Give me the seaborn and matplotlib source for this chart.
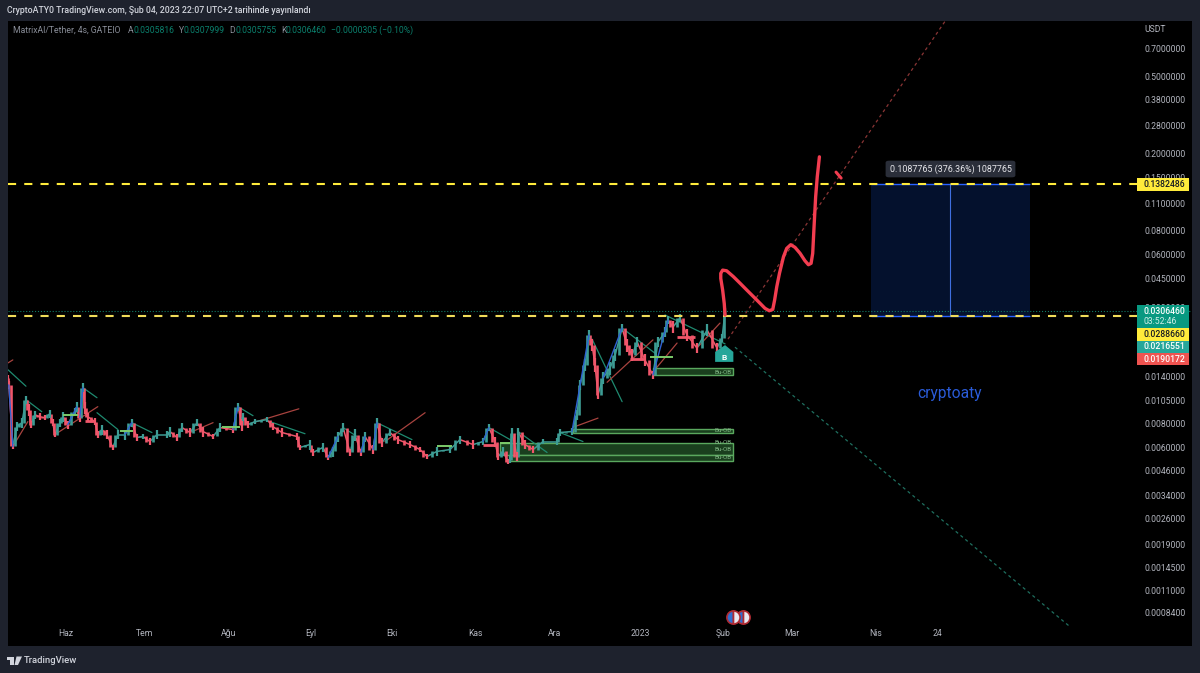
import numpy as np
import pandas as pd
import matplotlib
matplotlib.use('Agg')
import matplotlib.pyplot as plt
from matplotlib.patches import Rectangle, FancyBboxPatch, Polygon
import seaborn as sns

# days counted from 1 Haz 2022, prices in USDT
price_days = [-21.6, -21.3, -19.8, -18.3, -16.4, -14.9, -13.8, -13.1, -11.6, -9.7, -7.8, -6, -4.9, -4.1, -2.2, -1.1, 0.7, 3.4, 4.1, 5.2,
              6.3, 7.1, 8.2, 10.8, 11.9, 13.4, 15.3, 17.5, 19.4, 22, 24.6, 26.5, 28.7, 31.3, 34, 37.7, 38.8, 41.4, 43.3, 46.3,
              48.9, 51.1, 54.9, 57.5, 62.3, 64.2, 65.7, 66, 67.9, 70.5, 75, 77.2, 80.6, 86.2, 87.3, 91, 92.2, 95.9, 97.8, 99.6,
              101.5, 103.4, 106, 107.8, 110.1, 111.6, 114.6, 116, 117.9, 120.9, 123.9, 128.4, 132.1, 134.7, 138.4, 143.3, 147, 151.9, 155.6, 157.8,
              160.1, 161.2, 163.1, 164.9, 165.7, 166.4, 168.3, 168.7, 171.3, 174.3, 178, 183.2, 184.3, 188.8, 190.7, 191.8, 193.7, 195.1, 196.3, 197.4,
              198.5, 200.4, 203, 204.9, 207.5, 209.3, 211.2, 213.1, 216, 219, 220.9, 223.5, 224.6, 226.5, 229.1, 231.7, 235.4, 239.2, 242.9, 244.8, 245.9]
price_vals = [.0138, .0127, .0061, .00773, .0081, .01065, .00945, .00791, .0089, .00869, .00859, .009, .0081, .00703, .0081, .00869, .00791, .00923, .0098, .00859,
              .0123, .00967, .00869, .0082, .00703, .00746, .00703, .00603, .00703, .00703, .0081, .00679, .00687, .00647, .00703, .00703, .00729, .00679, .00764, .0072,
              .0081, .00729, .00687, .00764, .00746, .0098, .00791, .00869, .00791, .0082, .0084, .00773, .0072, .00687, .00603, .00624, .00568, .00603, .00535, .00575,
              .00687, .00764, .00568, .00703, .00568, .00687, .00588, .0081, .00639, .0072, .00662, .00624, .00588, .00541, .00575, .00588, .00662, .00624, .00647, .00764,
              .00647, .00541, .00575, .0051, .00522, .0072, .00541, .00729, .00624, .00588, .00647, .00647, .0072, .00729, .0089, .0127, .0161, .023, .0204,
              .0161, .0113, .0138, .0155, .0181, .025, .0204, .0181, .0212, .0171, .0143, .0212, .0238, .0275, .0253, .0282, .023, .0197, .0244, .0197, .0222, .0306]
# wick half height at each read point, as a share of the price
wick_sizes = [.04, .05, .03, .05, .06, .05, .07, .04, .05, .04, .03, .05, .04, .03, .05, .06, .05, .04, .06, .05,
              .05, .07, .05, .04, .04, .06, .05, .03, .05, .06, .05, .04, .03, .04, .05, .04, .06, .04, .05, .05,
              .04, .06, .03, .05, .04, .05, .07, .05, .04, .03, .03, .04, .05, .04, .03, .06, .04, .05, .03, .06,
              .06, .05, .04, .07, .04, .06, .05, .06, .05, .04, .05, .04, .03, .03, .05, .04, .05, .05, .04, .04,
              .06, .04, .05, .03, .04, .06, .05, .04, .05, .04, .03, .04, .04, .04, .06, .06, .07, .06, .07,
              .08, .05, .07, .08, .07, .05, .08, .07, .06, .07, .05, .06, .06, .05, .07, .05, .07, .06, .07, .06, .05, .04]

# hand drawn forecast curve and the small tick next to it
sketch_days = [245.9, 245.6, 245.0, 244.3, 244.3, 245.0, 246.5, 249.0, 251.5, 254.0, 256.5, 259.0, 260.8, 262.4, 263.7, 264.4,
               265.2, 266.2, 267.7, 268.9, 270.4, 272.0, 273.9, 275.7, 277.0, 278.0, 278.6, 279.1, 279.7, 280.3, 281.1]
sketch_vals = [.0292, .0335, .0393, .0451, .0479, .0498, .0494, .0461, .0426, .0393, .0363, .0335, .0316, .0307, .0312, .0349,
               .0409, .0479, .0584, .0645, .0674, .0653, .0608, .0557, .0531, .054, .0608, .0834, .1192, .1513, .1919]
mark_days = [287.3, 289.2]
mark_vals = [.16, .149]

# swing lines: start day, start price, end day, end price
green_lines = [(-21.6, .0152, -14.9, .0125), (-14.9, .01065, -9, .00923), (6.3, .0123, 11.6, .0109), (11.6, .00912, 19.4, .00746),
               (24.6, .0081, 32.1, .0072), (64.2, .0098, 69.8, .0088), (76.1, .0082, 89.2, .0071), (103.4, .00764, 108.6, .00687),
               (116, .0081, 129.1, .00662), (157.8, .00764, 165.7, .00662), (168.7, .00729, 179.5, .00568), (184.3, .0072, 192.9, .00647),
               (196.3, .0219, 207.5, .0104), (207.5, .025, 219.8, .0185), (223.5, .0292, 245.9, .0207)]
red_lines = [(-21.6, .0165, -19.8, .0171), (-19.8, .0061, -14.2, .0082), (-4.1, .00703, 11.9, .0098), (46.3, .0072, 54.9, .0081),
             (69.8, .0081, 86.9, .00955), (119, .00647, 134, .00912), (189.9, .00773, 198.5, .00855), (201.9, .0131, 219, .0217),
             (219, .0148, 228, .0209), (235.4, .0197, 244, .0265)]
blue_lines = [(-21.3, .0127, -19.8, .0061), (0.7, .00791, 4.1, .0098), (5.2, .00859, 6.3, .0123), (22, .00703, 24.6, .0081),
              (62.3, .00746, 64.2, .0098), (97.8, .00535, 101.5, .00687), (110.1, .00568, 111.6, .00687), (114.6, .00588, 116, .0081),
              (155.6, .00647, 157.8, .00764), (188.8, .00729, 195.1, .023), (200.4, .0138, 207.5, .025), (219, .0143, 224.6, .0275)]
green_flats = [(-1.1, 4.5, .0089), (20.1, 25, .00737), (58.2, 64.9, .00773), (138.4, 144, .00617), (161.9, 165.7, .00632), (217.9, 226.5, .0178)]
pink_flats = [(7.1, 10.8, .0083), (155.6, 160.8, .00624), (210.4, 216, .0173), (228, 234.7, .0225)]

# Bu-OB zones: start day, top price, bottom price
zone_end = 248.9
zones = [(219, .0155, .0143), (189.2, .00755, .00712), (162, .00639, .00548), (165.3, .00548, .00516)]
zone_label_prices = [.0148, .00735, .00639, .00588, .00532]

level_high = 0.1382486
level_low = 0.0288660
last_price = 0.0306460
box_days = [300.4, 329.9, 359.7]
up_line = [(247, .0219), (328, .965)]
down_line = [(249.6, .0199), (374.6, .000713)]

y_ticks = [0.7, 0.5, 0.38, 0.28, 0.2, 0.15, 0.11, 0.08, 0.06, 0.045, 0.032, 0.014, 0.0105, 0.008, 0.006, 0.0046, 0.0034, 0.0026, 0.0019, 0.00145, 0.0011, 0.00084]
x_ticks = [0, 29.5, 60.8, 91.4, 121.6, 152.6, 182.4, 214.1, 245.1, 270.9, 301.9, 325]
x_labels = ['Haz', 'Tem', 'Ağu', 'Eyl', 'Eki', 'Kas', 'Ara', '2023', 'Şub', 'Mar', 'Nis', '24']

W, H = 1200, 673
UP = '#3d9c94'
DOWN = '#f0566a'
sns.set_style('dark')
plt.rcParams['font.family'] = ['Roboto', 'DejaVu Sans']


def fx(x):
    return x / W


def fy(y):
    return 1 - y / H


def swing_frame(lines):
    rows = []
    for n, (d0, p0, d1, p1) in enumerate(lines):
        rows.append((n, d0, p0))
        rows.append((n, d1, p1))
    return pd.DataFrame(rows, columns=['seg', 'day', 'price'])


fig = plt.figure(figsize=(12, 6.73), dpi=100, facecolor='#1e222d')
ax = fig.add_axes([fx(8), fy(646), fx(1184), fy(21) - fy(646)], facecolor='black')
ax.set_yscale('log')
ax.set_xlim(-21.6, 420.1)
ax.set_ylim(0.000567, 0.967)
for s in ax.spines.values():
    s.set_visible(False)

# position box
ax.add_patch(Rectangle((box_days[0], level_low), box_days[2] - box_days[0], level_high - level_low, fc='#04112d', ec='none', zorder=1))
ax.hlines([level_high, level_low], box_days[0], box_days[2], color='#2962ff', lw=1, zorder=2)
ax.vlines(box_days[1], level_low, level_high, color='#3f6fe0', lw=0.8, zorder=2)

# zones
for start, top, bottom in zones:
    ax.add_patch(Rectangle((start, bottom), zone_end - start, top - bottom, fc='#1a3f1e', ec='#5aa85e', lw=1, zorder=2))
for p in zone_label_prices:
    ax.text(zone_end - 0.7, p, 'Bu-OB', color='#7fb583', fontsize=4.5, ha='right', va='center', zorder=3)

# green and red swings go under the candles, blue impulses over them
sns.lineplot(data=swing_frame(green_lines), x='day', y='price', units='seg', estimator=None, sort=False,
             color='#1f8a70', lw=0.9, ax=ax, zorder=3)
sns.lineplot(data=swing_frame(red_lines), x='day', y='price', units='seg', estimator=None, sort=False,
             color='#a8433f', lw=0.9, ax=ax, zorder=3)

# price moves between read points, each with a candle body and wicks
rows = []
for i in range(len(price_days) - 1):
    d = 'up' if price_vals[i + 1] >= price_vals[i] else 'down'
    rows.append((i, price_days[i], price_vals[i], d))
    rows.append((i, price_days[i + 1], price_vals[i + 1], d))
moves = pd.DataFrame(rows, columns=['seg', 'day', 'price', 'dir'])
sns.lineplot(data=moves, x='day', y='price', hue='dir', units='seg', estimator=None, sort=False,
             palette={'up': UP, 'down': DOWN}, lw=1.1, legend=False, ax=ax, zorder=4)

days = np.array(price_days)
vals = np.array(price_vals)
wicks = np.array(wick_sizes)
mids = (days[:-1] + days[1:]) / 2
colors = [UP if b >= a else DOWN for a, b in zip(vals[:-1], vals[1:])]
ax.vlines(mids, vals[:-1], vals[1:], colors=colors, lw=1.9, zorder=5)
ax.vlines(days, vals * (1 - wicks), vals * (1 + wicks), colors=[DOWN] + colors, lw=1.6, zorder=5)

sns.lineplot(data=swing_frame(blue_lines), x='day', y='price', units='seg', estimator=None, sort=False,
             color='#2f62d0', lw=1, ax=ax, zorder=6)

for d0, d1, p in green_flats:
    ax.hlines(p, d0, d1, color='#7ccb6a', lw=1.4, zorder=6)
for d0, d1, p in pink_flats:
    ax.hlines(p, d0, d1, color=DOWN, lw=2, zorder=6)

# long dotted trend lines
ax.plot(*zip(*up_line), color='#8a3535', lw=0.9, ls=(0, (2.5, 2.5)), zorder=3)
ax.plot(*zip(*down_line), color='#1f6f5f', lw=0.9, ls=(0, (2.5, 2.5)), zorder=3)

# levels
ax.axhline(last_price, color='#0f7a66', lw=0.8, ls=':', zorder=3)
ax.axhline(level_high, color='#ffeb3b', lw=1.5, ls=(0, (3.9, 3.9)), zorder=7)
ax.axhline(level_low, color='#f0dc5a', lw=1.5, ls=(0, (3.9, 3.9)), zorder=7)

# sketch
sns.lineplot(x=sketch_days, y=sketch_vals, sort=False, estimator=None, color='#f23d50', lw=2.4, ax=ax, zorder=8,
             solid_capstyle='round', solid_joinstyle='round')
sns.lineplot(x=mark_days, y=mark_vals, sort=False, estimator=None, color='#f23d50', lw=2.2, ax=ax, zorder=8)

# axis ticks sit inside the black area like on the original
ax.yaxis.tick_right()
ax.set_yticks(y_ticks)
ax.set_yticklabels([f'{v:.7f}' for v in y_ticks])
ax.minorticks_off()
ax.tick_params(axis='y', which='both', length=0, pad=-34.5, labelsize=6.2, labelcolor='#b2b5be')
ax.set_xticks(x_ticks)
ax.set_xticklabels(x_labels)
ax.tick_params(axis='x', length=0, pad=-12.5, labelsize=6.2, labelcolor='#b2b5be')
ax.set_xlabel('')
ax.set_ylabel('')
ax.grid(False)

# buy label
ax.add_patch(Polygon([(242.2, .0188), (245.9, .0204), (249.0, .0188), (249.0, .0167), (242.2, .0167)], fc='#26a69a', ec='none', zorder=9))
ax.text(245.7, .0176, 'B', color='white', fontsize=6, fontweight='bold', ha='center', va='center', zorder=10)

# calendar flags
ax.plot([248.9, 252.6], [.000802, .000802], ls='none', marker='o', ms=9.5, mfc='#2f6fd0', mfcalt='#e8e8f0', fillstyle='left',
        mec='#b02a32', mew=1.2, zorder=6)

ax.text(329.6, 0.0114, 'cryptoaty', color='#2a5bd7', fontsize=11.2, ha='center', va='center')
fig.text(fx(1144), fy(30), 'USDT', color='#b2b5be', fontsize=6.2, va='center')

# header
fig.text(fx(7), fy(10.5), 'CryptoATY0 TradingView.com, Şub 04, 2023 22:07 UTC+2 tarihinde yayınlandı', color='#d1d4dc',
         fontsize=6.35, fontweight='medium', va='center')
grey = '#8a8e99'
teal = '#0b7f6c'
legend_bits = [(13, 'MatrixAI/Tether, 4s, GATEIO', grey), (128, 'A', grey), (133, '0.0305816', teal), (179, 'Y', grey), (184, '0.0307999', teal),
               (229, 'D', grey), (235, '0.0305755', teal), (281, 'K', grey), (286, '0.0306460', teal), (331, '−0.0000305 (−0.10%)', teal)]
for x, t, c in legend_bits:
    fig.text(fx(x), fy(30.5), t, color=c, fontsize=6.2, va='center')

# price tags on the right
tags = [(178, 191, '#ffeb3b', '0.1382486', '#131722'), (305, 327.5, '#089981', '0.0306460', 'white'), (328, 341, '#ffeb3b', '0.0288660', '#131722'),
        (341, 353, '#26a69a', '0.0216551', 'white'), (353, 365, '#ef5350', '0.0190172', 'white')]
for top, bottom, color, label, tc in tags:
    fig.add_artist(Rectangle((fx(1137), fy(bottom)), fx(52), fy(top) - fy(bottom), transform=fig.transFigure, fc=color, ec='none', zorder=5))
    yy = (top + 6.3) if bottom - top > 15 else (top + bottom) / 2
    fig.text(fx(1144), fy(yy), label, color=tc, fontsize=6.2, fontweight='medium', va='center', zorder=6)
fig.text(fx(1144), fy(321), '03:52:46', color='#cfeee8', fontsize=6.2, va='center', zorder=6)

# position label
fig.add_artist(FancyBboxPatch((fx(888), fy(176)), fx(125), fy(162) - fy(176), transform=fig.transFigure,
                              boxstyle='round,pad=0.002,rounding_size=0.003', fc='#2a2e39', ec='none', zorder=5))
fig.text(fx(950.5), fy(169), '0.1087765 (376.36%) 1087765', color='#e8e8ec', fontsize=6.4, ha='center', va='center', zorder=6)

# footer logo and name
fig.add_artist(Rectangle((fx(7), fy(660)), fx(6.5), fy(656.5) - fy(660), transform=fig.transFigure, fc='#d1d4dc', ec='none'))
fig.add_artist(Rectangle((fx(10), fy(665)), fx(3.5), fy(660) - fy(665), transform=fig.transFigure, fc='#d1d4dc', ec='none'))
fig.add_artist(Polygon([(fx(16.5), fy(656.5)), (fx(22), fy(656.5)), (fx(18), fy(665)), (fx(14.5), fy(665))], transform=fig.transFigure, fc='#d1d4dc', ec='none'))
fig.text(fx(24), fy(660.5), 'TradingView', color='#d1d4dc', fontsize=6.8, fontweight='medium', va='center')

fig.savefig('out.png', dpi=100, facecolor=fig.get_facecolor())
